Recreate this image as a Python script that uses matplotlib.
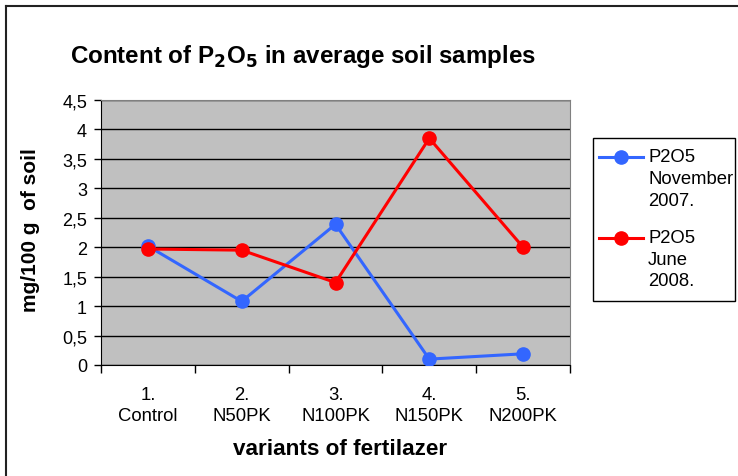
import matplotlib
matplotlib.use("Agg")
import matplotlib.pyplot as plt
from matplotlib.lines import Line2D
from matplotlib.patches import Rectangle

plt.rcParams['font.family'] = ['Liberation Sans', 'DejaVu Sans']

categories = ["1.\nControl", "2.\nN50PK", "3.\nN100PK", "4.\nN150PK", "5.\nN200PK"]
nov_2007 = [2.02, 1.08, 2.39, 0.10, 0.19]
jun_2008 = [1.97, 1.95, 1.40, 3.85, 2.00]
series_labels = ["P2O5\nNovember\n2007.", "P2O5\nJune\n2008."]
series_colors = ["#3366FF", "#FF0000"]
y_ticks = [0, 0.5, 1, 1.5, 2, 2.5, 3, 3.5, 4, 4.5]
y_labels = ["0", "0,5", "1", "1,5", "2", "2,5", "3", "3,5", "4", "4,5"]

W, H = 738, 477
fig = plt.figure(figsize=(W / 100, H / 100), dpi=100)


def fx(px):
    return px / W


def fy(py):
    return 1 - py / H


# plot area in pixels: left 101, right 570, top 101, bottom 366
ax = fig.add_axes([fx(101), fy(366), (570 - 101) / W, (366 - 101) / H])
ax.set_facecolor("#C0C0C0")

x = list(range(len(categories)))
for vals, col, z in zip([nov_2007, jun_2008], series_colors, [3, 4]):
    ax.plot(x, vals, color=col, lw=2.2, marker="o", ms=9.5, zorder=z)

ax.set_xlim(-0.5, 4.5)
ax.set_ylim(0, 4.5)
ax.set_yticks(y_ticks)
ax.set_yticklabels(y_labels, fontsize=13)
ax.yaxis.grid(True, color="black", lw=1)
ax.set_axisbelow(True)
ax.tick_params(axis="y", length=5, width=1, pad=5)

ax.set_xticks(x)
ax.set_xticklabels(categories, fontsize=13.3, linespacing=1.3)
ax.tick_params(axis="x", length=0, pad=15)
ax.set_xticks([i - 0.5 for i in range(len(categories) + 1)], minor=True)
ax.tick_params(axis="x", which="minor", length=6, width=1)

for s in ["top", "right"]:
    ax.spines[s].set_color("#808080")
for s in ["left", "bottom"]:
    ax.spines[s].set_color("black")

fig.text(fx(340), fy(450), "variants of fertilazer", fontsize=16.2, fontweight="bold",
         ha="center", va="center")
fig.text(fx(31), fy(230), "mg/100 g  of soil", fontsize=15, fontweight="bold",
         ha="center", va="center", rotation=90)

fig.text(fx(70), fy(57), r"Content of P$_\mathbf{2}$O$_\mathbf{5}$ in average soil samples",
         fontsize=17.4, fontweight="bold", va="center", ha="left")

# legend drawn by hand so the marker sits on the first text line
fig.patches.append(Rectangle((fx(593), fy(302)), (735 - 593) / W, (302 - 139) / H,
                             transform=fig.transFigure, facecolor="white",
                             edgecolor="black", lw=1))
for i, (lab, col) in enumerate(zip(series_labels, series_colors)):
    y0 = 158 + i * 81
    fig.lines.append(Line2D([fx(599), fx(643)], [fy(y0), fy(y0)], transform=fig.transFigure,
                            color=col, lw=2.2))
    fig.lines.append(Line2D([fx(621)], [fy(y0)], transform=fig.transFigure,
                            color=col, marker="o", ms=9.5, lw=0))
    for j, line in enumerate(lab.split("\n")):
        fig.text(fx(648), fy(y0 + j * 21.5), line, fontsize=13.3, ha="left", va="center")

# outer frame (only top and left edges are visible)
fig.lines.append(Line2D([fx(6), 1], [fy(6.5), fy(6.5)], transform=fig.transFigure,
                        color="#222222", lw=1.5))
fig.lines.append(Line2D([fx(6), fx(6)], [fy(6.5), 0], transform=fig.transFigure,
                        color="#222222", lw=1.5))

fig.savefig("out.png", dpi=100)
